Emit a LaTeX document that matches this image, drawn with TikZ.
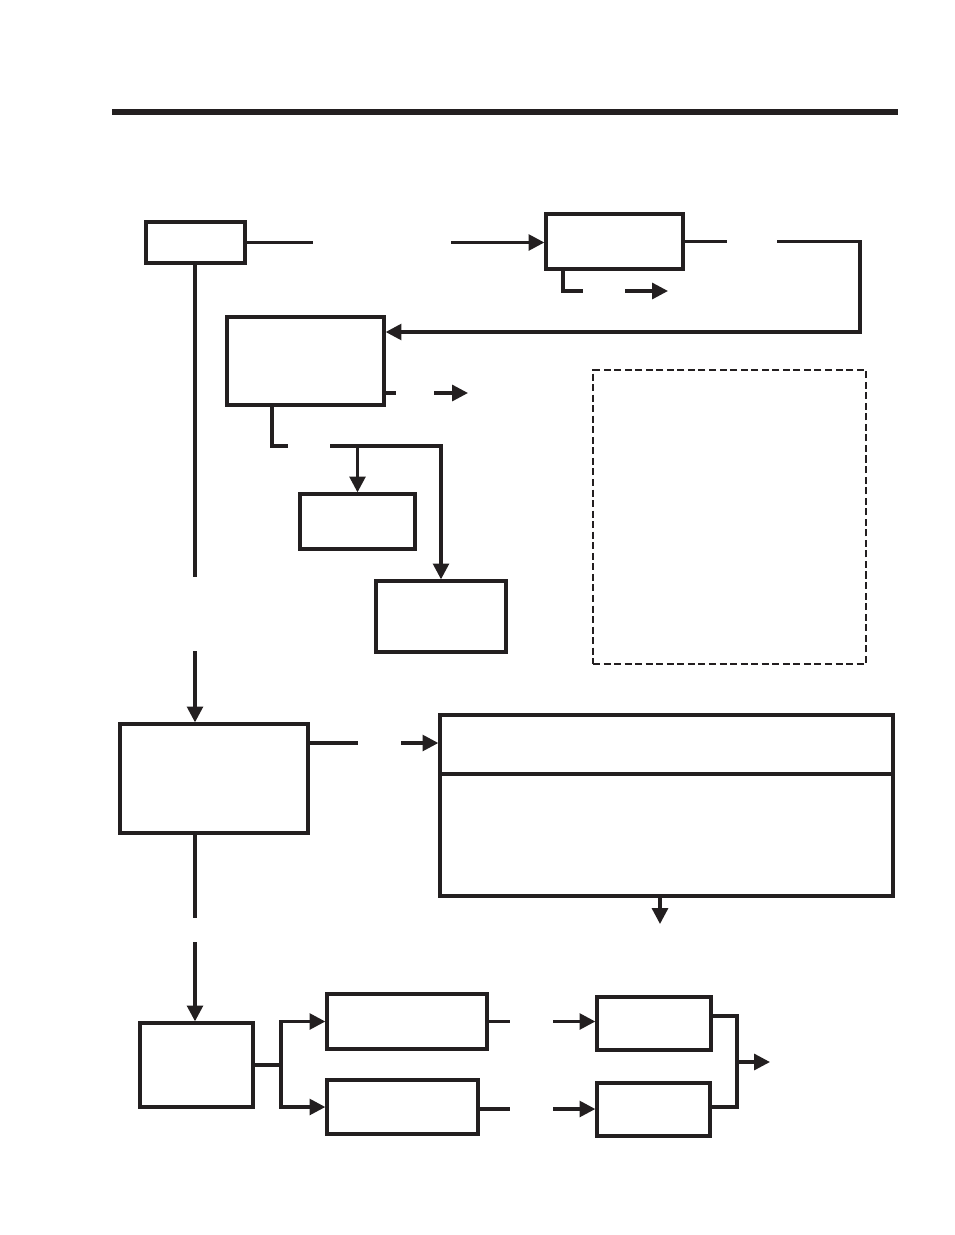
\documentclass[tikz,border=0pt]{standalone}
\usetikzlibrary{arrows.meta}
\definecolor{ink}{RGB}{35, 31, 32}

\begin{document}
\begin{tikzpicture}[
        x=0.03cm, y=-0.03cm,
        box/.style={rectangle, draw=ink, line width=2.8pt, inner sep=0pt},
        sz/.style 2 args={minimum width=#1*0.03cm, minimum height=#2*0.03cm},
        notebox/.style={rectangle, draw=ink, line width=1.6pt, inner sep=0pt,
            dash pattern=on 6pt off 3pt},
        link/.style={line width=2.8pt, color=ink},
        arrow/.style={line width=2.8pt, color=ink,
            -{Triangle[length=13.5pt, width=13.5pt]}}
        ]
        \useasboundingbox (0,0) rectangle (954,1235);
        \draw[ink, line width=4.3pt] (112,112) -- (898,112);

        \node[box, sz={99}{41}] (start) at (195.5,242.5) {};
        \node[box, sz={137}{55}] (check) at (614.5,241.5) {};
        \node[box, sz={157}{88}] (review) at (305.5,361) {};
        \node[box, sz={115}{55}] (minor) at (357.5,521.5) {};
        \node[box, sz={130}{71}] (major) at (441,616.5) {};
        \node[notebox, sz={273}{294}] (note) at (729.5,517) {};
        \node[box, sz={188}{109}] (assess) at (214,778.5) {};
        \node[box, sz={453}{181}] (table) at (666.5,805.5) {};
        \node[box, sz={113}{84}] (split) at (196.5,1065) {};
        \node[box, sz={160}{55}] (upA) at (407,1021.5) {};
        \node[box, sz={151}{54}] (upB) at (402.5,1107) {};
        \node[box, sz={114}{53}] (outA) at (654,1023.5) {};
        \node[box, sz={113}{53}] (outB) at (653.5,1109.5) {};

        \coordinate (s1) at (313,242.5);
        \coordinate (s2) at (451,242.5);
        \draw[link] (start.east) -- (s1);
        \draw[arrow] (s2) -- (s2 -| check.west);

        \coordinate (k1) at (727,241.5);
        \coordinate (k2) at (777,241.5);
        \coordinate (k3) at (860,332);
        \draw[link] (check.east) -- (k1);
        \draw[arrow] (k2) -| (k3) -- (k3 -| review.east);

        \coordinate (k4) at (583,291);
        \coordinate (k5) at (625,291);
        \coordinate (k6) at (668,291);
        \draw[link] (check.south -| 563,0) |- (k4);
        \draw[arrow] (k5) -- (k6);

        \coordinate (r1) at (396,393);
        \coordinate (r2) at (434,393);
        \coordinate (r3) at (468,393);
        \draw[link] (review.east |- r1) -- (r1);
        \draw[arrow] (r2) -- (r3);

        \coordinate (r4) at (272,446);
        \coordinate (r5) at (288,446);
        \coordinate (r6) at (330,446);
        \draw[link] (review.south -| r4) |- (r5);
        \draw[arrow] (r6) -| (major.north);
        \draw[arrow] (minor.north |- r6) -- (minor.north);

        \coordinate (v1) at (195,577);
        \coordinate (v2) at (195,651);
        \draw[link] (start.south -| v1) -- (v1);
        \draw[arrow] (v2) -- (v2 |- assess.north);

        \coordinate (a1) at (358,743);
        \coordinate (a2) at (401,743);
        \draw[link] (assess.east |- a1) -- (a1);
        \draw[arrow] (a2) -- (a2 -| table.west);
        \draw[link] (table.west |- 0,774) -- (table.east |- 0,774);

        \coordinate (t1) at (660,924);
        \draw[arrow] (table.south -| t1) -- (t1);

        \coordinate (v3) at (195,918);
        \coordinate (v4) at (195,942);
        \draw[link] (assess.south -| v3) -- (v3);
        \draw[arrow] (v4) -- (v4 |- split.north);

        \coordinate (fork) at (281,1065);
        \draw[link] (split.east) -- (fork);
        \draw[arrow] (fork) |- (upA.west);
        \draw[arrow] (fork) |- (upB.west);

        \coordinate (u1) at (510,1021.5);
        \coordinate (u2) at (553,1021.5);
        \coordinate (u3) at (510,1109);
        \coordinate (u4) at (553,1109);
        \draw[link] (upA.east) -- (u1);
        \draw[arrow] (u2) -- (u2 -| outA.west);
        \draw[link] (upB.east |- u3) -- (u3);
        \draw[arrow] (u4) -- (u4 -| outB.west);

        \coordinate (m1) at (737,1016);
        \coordinate (m2) at (737,1107);
        \coordinate (m3) at (770,1062);
        \draw[link] (outA.east |- m1) -- (m1) -- (m2) -- (outB.east |- m2);
        \draw[arrow] (m1 |- m3) -- (m3);
    \end{tikzpicture}
\end{document}
